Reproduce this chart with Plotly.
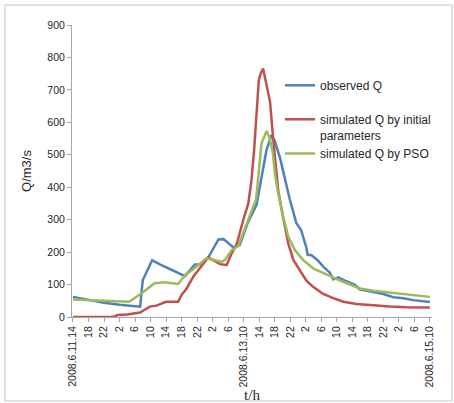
import plotly.graph_objects as go

# hours after 2008.6.11 14:00
tick_hours = list(range(0, 93, 4))
tick_labels = ["2008.6.11.14", "18", "22", "2", "6", "10", "14", "18", "22", "2", "6",
               "2008.6.13.10", "14", "18", "22", "2", "6", "10", "14", "18", "22", "2", "6",
               "2008.6.15.10"]

obs_h = [0, 4, 8, 12, 16, 17.3, 18, 20.4, 22.4, 26.3, 28.9, 31.4, 32.7, 34.9, 37.5, 38.8,
         41.6, 43, 45, 47.3, 48.4, 49.9, 51.2, 52.1, 53.4, 54.6, 55.9, 57.6, 58.8, 60.1,
         60.5, 61.4, 63.0, 64.7, 66.2, 67.1, 68.4, 70.1, 72.7, 73.9, 77.4, 80, 82.6, 85.2,
         87.7, 90.3, 92]
obs_q = [62, 52, 44, 38, 34, 32, 114, 175, 162, 141, 126, 162, 162, 184, 239, 240,
         212, 222, 289, 345, 412, 515, 561, 540, 489, 427, 362, 289, 268, 217,
         191, 191, 176, 153, 137, 116, 122, 112, 99, 85, 78, 71, 61, 58,
         52, 48, 46]

init_h = [0, 10.4, 11.5, 14, 17.3, 19.8, 21.5, 24, 27.1, 28, 29.3, 31, 32.7, 34.9, 37.9,
          39.6, 40.9, 42.2, 43.9, 45.2, 46, 46.7, 47.9, 48.4, 49, 49.9, 50.8, 51.6, 52.5,
          52.9, 53.8, 54.6, 55.5, 56.8, 58.5, 60.2, 61.9, 64.5, 67.1, 69.7, 73.1, 77.4,
          81.7, 86, 92]
init_q = [0, 0, 6, 8, 14, 32, 35, 47, 47, 68, 88, 124, 150, 184, 163,
          160, 196, 225, 299, 350, 420, 515, 730, 751, 766, 715, 664, 551, 448,
          391, 330, 278, 227, 176, 142, 112, 93, 71, 58, 47, 40, 35,
          32, 30, 29]

pso_h = [0, 4, 8, 12, 14.5, 17.7, 21, 23.7, 27.1, 28.9, 31, 34.4, 36.5, 38.3, 39.2,
         40.9, 42.6, 43.9, 45.6, 47.2, 48.6, 49.9, 50.7, 51.5, 52.1, 52.9, 54.2, 55.5,
         57.2, 59.3, 61.9, 63.7, 66.4, 68.9, 71.2, 74.0, 77.4, 81.7, 86, 90.3, 92]
pso_q = [54, 52, 50, 48, 47, 73, 104, 107, 102, 129, 147, 181, 176, 170, 176,
         206, 219, 258, 309, 362, 535, 573, 551, 509, 438, 381, 309, 247,
         206, 176, 150, 140, 126, 112, 101, 88, 81, 75, 69, 65, 62]

fig = go.Figure()
fig.add_trace(go.Scatter(x=obs_h, y=obs_q, mode="lines", name="observed Q",
                         line=dict(color="#4F81BD", width=2.5), legend="legend",
                         showlegend=True))
fig.add_trace(go.Scatter(x=init_h, y=init_q, mode="lines",
                         name="simulated Q by initial<br>parameters",
                         line=dict(color="#C0504D", width=2.5), legend="legend2",
                         showlegend=True))
fig.add_trace(go.Scatter(x=pso_h, y=pso_q, mode="lines", name="simulated Q by PSO",
                         line=dict(color="#9BBB59", width=2.5), legend="legend2",
                         showlegend=True))

L, R, T, B = 72, 22, 25, 86
W, H = 454, 403
pw, ph = W - L - R, H - T - B

def px(xp):
    return (xp - L) / pw

def py(yp):
    return (H - B - yp) / ph

axis_col = "#A6A6A6"
txt_col = "#262626"

fig.update_layout(
    width=W, height=H,
    margin=dict(l=L, r=R, t=T, b=B, pad=0, autoexpand=False),
    paper_bgcolor="white", plot_bgcolor="white",
    showlegend=True,
    font=dict(family="Liberation Sans, Arial, sans-serif", color=txt_col, size=11),
    legend=dict(x=px(280), y=py(71), xanchor="left", yanchor="top",
                font=dict(size=12), bgcolor="rgba(0,0,0,0)", valign="top",
                visible=True),
    legend2=dict(x=px(280), y=py(105), xanchor="left", yanchor="top",
                 font=dict(size=12), bgcolor="rgba(0,0,0,0)", valign="top",
                 visible=True),
    xaxis=dict(range=[-0.25, 92.55], tickmode="array", tickvals=tick_hours,
               ticktext=tick_labels, tickangle=-90, showgrid=False, zeroline=False,
               showline=True, linecolor=axis_col, linewidth=1,
               ticks="outside", ticklen=4, tickcolor=axis_col,
               tickfont=dict(size=10.5), automargin=False,
               title=dict(text="t/h", standoff=2,
                          font=dict(family="Liberation Serif, Times New Roman, serif",
                                    size=15, color=txt_col))),
    yaxis=dict(range=[0, 900], dtick=100, showgrid=False, zeroline=False,
               showline=True, linecolor=axis_col, linewidth=1,
               ticks="outside", ticklen=4, tickcolor=axis_col,
               tickfont=dict(size=10.5), automargin=False,
               title=dict(text="Q/m3/s", standoff=12, font=dict(size=13))),
    shapes=[dict(type="rect", xref="paper", yref="paper",
                 x0=px(5), x1=px(452), y0=py(401), y1=py(5),
                 line=dict(color="#D9D9D9", width=1.5), layer="below")],
)

fig.write_html("out.html")
